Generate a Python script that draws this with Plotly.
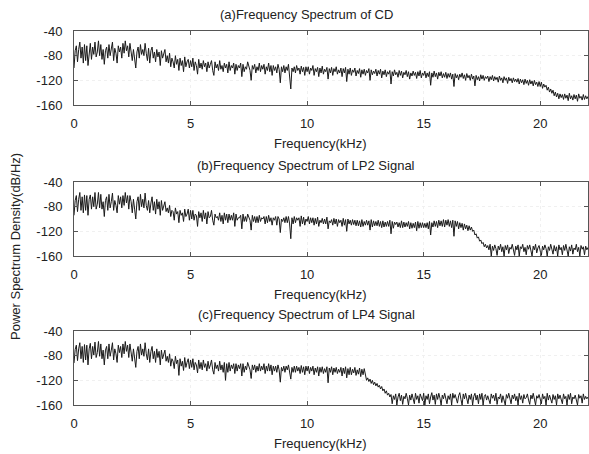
import numpy as np
import plotly.graph_objects as go

freq_step = 0.05
cd_psd = [
    -100, -72, -64, -90, -70, -58, -84, -66, -92, -62,
    -88, -64, -96, -70, -60, -86, -66, -78, -58, -82,
    -74, -56, -80, -62, -86, -70, -94, -72, -66, -84,
    -62, -80, -70, -58, -88, -68, -76, -92, -64, -74,
    -66, -84, -60, -76, -56, -72, -64, -82, -60, -74,
    -88, -70, -82, -100, -74, -66, -84, -62, -78, -70,
    -80, -60, -76, -88, -68, -92, -72, -66, -84, -74,
    -90, -70, -82, -74, -96, -72, -84, -78, -70, -90,
    -80, -92, -76, -98, -84, -90, -100, -80, -94, -86,
    -104, -84, -96, -88, -106, -82, -98, -90, -86, -100,
    -88, -98, -84, -104, -90, -96, -110, -86, -100, -92,
    -102, -88, -98, -92, -106, -90, -100, -94, -88, -104,
    -112, -90, -100, -94, -104, -88, -102, -96, -106, -92,
    -100, -94, -108, -90, -104, -96, -100, -92, -110, -94,
    -104, -96, -100, -92, -114, -94, -106, -98, -102, -90,
    -96, -104, -120, -96, -102, -94, -108, -98, -104, -92,
    -106, -96, -102, -94, -110, -98, -104, -92, -106, -96,
    -112, -96, -104, -98, -108, -94, -102, -124, -98, -106,
    -96, -108, -98, -104, -94, -110, -134, -100, -106, -98,
    -108, -96, -104, -100, -110, -97, -106, -99, -112, -98,
    -106, -98, -110, -100, -104, -96, -112, -101, -106, -99,
    -114, -100, -108, -97, -110, -102, -106, -99, -118, -101,
    -108, -99, -112, -101, -106, -98, -110, -103, -108, -100,
    -114, -101, -108, -99, -122, -102, -110, -100, -112, -103,
    -107, -100, -113, -104, -109, -101, -115, -103, -110, -102,
    -112, -104, -108, -101, -120, -103, -111, -105, -109, -102,
    -113, -104, -110, -102, -116, -105, -111, -103, -114, -106,
    -110, -104, -126, -106, -113, -103, -111, -107, -115, -104,
    -112, -105, -116, -107, -111, -104, -114, -106, -118, -108,
    -113, -105, -112, -107, -117, -106, -113, -104, -116, -108,
    -112, -105, -116, -108, -114, -106, -128, -108, -115, -105,
    -114, -108, -118, -107, -113, -106, -116, -109, -115, -107,
    -117, -109, -115, -108, -118, -110, -130, -109, -116, -111,
    -119, -110, -115, -108, -117, -111, -120, -109, -116, -112,
    -120, -110, -118, -113, -129, -112, -119, -114, -121, -111,
    -118, -112, -120, -114, -117, -113, -122, -114, -119, -112,
    -121, -114, -119, -115, -123, -113, -120, -116, -124, -114,
    -120, -116, -125, -115, -121, -117, -124, -116, -122, -118,
    -123, -117, -126, -118, -124, -119, -127, -118, -125, -120,
    -128, -119, -126, -121, -129, -120, -127, -123, -130, -122,
    -130, -123, -133, -126, -131, -128, -136, -131, -139, -134,
    -141, -136, -145, -139, -147, -141, -150, -142, -148, -143,
    -151, -142, -149, -144, -153, -141, -150, -145, -152, -143,
    -150, -144, -154, -142, -149, -146, -152, -143, -151, -145,
    -150, -146,
]
lp2_psd = [
    -94, -70, -62, -88, -68, -57, -86, -64, -90, -61,
    -86, -62, -94, -68, -61, -84, -64, -80, -57, -84,
    -76, -57, -82, -60, -84, -72, -96, -70, -64, -86,
    -60, -82, -72, -58, -86, -70, -78, -90, -62, -76,
    -64, -82, -62, -78, -57, -74, -62, -84, -62, -72,
    -90, -68, -84, -100, -72, -64, -86, -60, -80, -68,
    -82, -58, -78, -86, -70, -90, -74, -64, -86, -72,
    -92, -68, -84, -72, -94, -70, -86, -76, -72, -88,
    -82, -90, -78, -96, -86, -88, -102, -82, -92, -88,
    -106, -86, -94, -90, -104, -84, -96, -92, -84, -102,
    -86, -100, -86, -102, -92, -94, -112, -88, -98, -90,
    -104, -86, -100, -90, -108, -88, -98, -96, -86, -102,
    -110, -92, -98, -96, -102, -90, -104, -94, -108, -90,
    -102, -92, -106, -92, -102, -94, -102, -90, -112, -92,
    -102, -98, -98, -94, -116, -92, -104, -96, -104, -92,
    -98, -102, -118, -94, -104, -96, -106, -96, -106, -94,
    -104, -98, -100, -96, -108, -96, -106, -94, -104, -98,
    -110, -98, -102, -96, -110, -96, -100, -122, -100, -104,
    -98, -106, -96, -106, -96, -108, -132, -98, -108, -96,
    -106, -98, -102, -98, -112, -95, -108, -97, -110, -100,
    -104, -96, -108, -98, -106, -98, -110, -99, -108, -97,
    -112, -102, -106, -99, -108, -100, -108, -97, -116, -103,
    -106, -101, -110, -99, -108, -100, -112, -101, -106, -102,
    -112, -99, -110, -101, -120, -100, -108, -102, -110, -101,
    -109, -102, -111, -102, -111, -103, -113, -101, -112, -104,
    -110, -102, -110, -103, -118, -101, -113, -103, -111, -104,
    -111, -102, -112, -104, -114, -103, -113, -105, -112, -104,
    -112, -102, -124, -104, -115, -105, -109, -105, -113, -106,
    -114, -103, -114, -105, -113, -106, -112, -104, -116, -106,
    -115, -107, -114, -105, -119, -104, -115, -106, -114, -106,
    -114, -107, -114, -106, -116, -104, -126, -106, -113, -103,
    -112, -104, -114, -102, -111, -103, -112, -101, -113, -102,
    -110, -101, -112, -103, -114, -102, -128, -103, -112, -104,
    -116, -106, -114, -107, -118, -108, -116, -110, -119, -111,
    -118, -113, -120, -118, -126, -124, -131, -129, -136, -134,
    -140, -138, -145, -141, -147, -143, -150, -141, -160, -144,
    -151, -142, -148, -159, -144, -150, -141, -153, -145, -160,
    -143, -150, -142, -156, -146, -149, -141, -152, -159, -144,
    -150, -142, -160, -145, -148, -141, -153, -146, -158, -143,
    -149, -142, -151, -160, -144, -150, -141, -155, -147, -143,
    -152, -159, -144, -150, -142, -148, -160, -145, -151, -141,
    -149, -157, -143, -152, -145, -160, -142, -150, -146, -158,
    -143, -151, -141, -149, -160, -145, -152, -142, -157, -147,
    -150, -141, -153, -146, -160, -143, -149, -145, -158, -144,
    -150, -146,
]
lp4_psd = [
    -92, -70, -63, -88, -69, -59, -85, -65, -91, -62,
    -87, -63, -95, -69, -60, -85, -65, -79, -58, -83,
    -75, -57, -81, -61, -85, -71, -95, -71, -65, -85,
    -61, -81, -71, -59, -87, -69, -77, -91, -63, -75,
    -65, -83, -61, -77, -57, -73, -63, -83, -61, -73,
    -89, -69, -83, -99, -73, -65, -85, -61, -79, -69,
    -81, -59, -77, -87, -69, -91, -73, -65, -85, -73,
    -91, -69, -83, -73, -95, -71, -85, -77, -71, -89,
    -81, -91, -77, -97, -85, -89, -101, -81, -93, -87,
    -112, -85, -97, -89, -104, -83, -99, -91, -85, -101,
    -87, -99, -85, -103, -91, -95, -108, -87, -101, -91,
    -103, -87, -99, -93, -105, -89, -101, -95, -87, -103,
    -110, -91, -101, -95, -105, -89, -103, -95, -107, -91,
    -120, -93, -107, -91, -105, -95, -101, -93, -109, -93,
    -105, -95, -101, -93, -113, -93, -107, -97, -103, -91,
    -97, -103, -117, -95, -103, -95, -107, -97, -105, -93,
    -105, -97, -103, -93, -109, -97, -105, -93, -105, -95,
    -111, -97, -105, -97, -107, -95, -103, -123, -99, -105,
    -97, -107, -97, -103, -95, -109, -118, -99, -107, -97,
    -107, -97, -105, -99, -109, -96, -107, -98, -111, -97,
    -105, -97, -109, -99, -105, -97, -111, -100, -107, -98,
    -113, -99, -107, -98, -109, -101, -107, -98, -124, -100,
    -107, -98, -111, -100, -107, -99, -109, -102, -107, -99,
    -113, -100, -109, -98, -116, -101, -111, -99, -111, -102,
    -108, -99, -112, -103, -110, -100, -114, -102, -111, -101,
    -112, -120, -116, -122, -118, -125, -120, -127, -123, -129,
    -125, -131, -128, -134, -130, -137, -134, -141, -137, -144,
    -141, -147, -143, -158, -145, -151, -142, -160, -147, -141,
    -153, -144, -159, -146, -150, -141, -149, -160, -144, -152,
    -142, -150, -158, -141, -151, -145, -157, -142, -150, -153,
    -141, -160, -145, -151, -142, -158, -147, -140, -152, -144,
    -159, -142, -151, -141, -149, -160, -144, -150, -141, -153,
    -158, -145, -151, -142, -160, -141, -149, -143, -152, -157,
    -145, -140, -151, -160, -142, -150, -141, -153, -158, -144,
    -151, -142, -160, -146, -141, -152, -144, -158, -142, -151,
    -141, -160, -146, -143, -152, -145, -150, -158, -142, -149,
    -144, -153, -141, -159, -147, -150, -142, -156, -145, -151,
    -160, -143, -149, -141, -152, -158, -144, -150, -142, -153,
    -146, -160, -141, -151, -145, -157, -143, -150, -148, -142,
    -152, -159, -144, -150, -141, -153, -160, -145, -149, -143,
    -151, -158, -142, -150, -146, -160, -141, -152, -144, -149,
    -157, -143, -151, -145, -160, -142, -150, -144, -153, -158,
    -142, -150, -146, -160, -143, -151, -141, -158, -147, -150,
    -144, -152, -160, -143, -149, -145, -157, -142, -151, -146,
    -150, -147,
]
titles = ["(a)Frequency Spectrum of CD",
          "(b)Frequency Spectrum of LP2 Signal",
          "(c)Frequency Spectrum of LP4 Signal"]
x_title = "Frequency(kHz)"
y_title = "Power Spectrum Density(dB/Hz)"
x_ticks = [0, 5, 10, 15, 20]
y_ticks = [-40, -80, -120, -160]
y_ticktext = ["-40", "-80", "-120", "-160"]

W, H = 589, 454
freq = np.arange(len(cd_psd)) * freq_step

boxes = [(31, 105), (182, 256), (331, 405)]  # page pixels (top, bottom)
x0px, x1px = 74, 588
FONT = "Liberation Sans, Arial, sans-serif"


def px_x(p):
    return p / W


def px_y(p):
    return 1 - p / H


fig = go.Figure()
series = [cd_psd, lp2_psd, lp4_psd]
for k, vals in enumerate(series):
    sfx = "" if k == 0 else str(k + 1)
    fig.add_trace(go.Scatter(x=freq, y=vals, mode="lines",
                             line=dict(color="#1a1a1a", width=1),
                             xaxis="x" + sfx, yaxis="y" + sfx,
                             showlegend=False, hoverinfo="skip"))
    top, bot = boxes[k]
    common = dict(showline=True, mirror="ticks", linecolor="#555",
                  linewidth=1, ticks="inside", ticklen=4, tickcolor="#555",
                  tickfont=dict(family=FONT, size=13, color="#222"),
                  zeroline=False, automargin=False,
                  showgrid=True, gridcolor="#f0f0f0", griddash="dot")
    fig.update_layout(**{
        "xaxis" + sfx: dict(domain=[px_x(x0px), px_x(x1px)], range=[0, 22.05],
                            tickvals=x_ticks, anchor="y" + sfx,
                            ticklabelstandoff=6, **common),
        "yaxis" + sfx: dict(domain=[px_y(bot), px_y(top)], range=[-160, -40],
                            tickvals=y_ticks, ticktext=y_ticktext,
                            anchor="x" + sfx, ticklabelstandoff=8, **common),
    })
    fig.add_annotation(text=titles[k], x=px_x(306), y=px_y(top - 17),
                       xref="paper", yref="paper", showarrow=False,
                       xanchor="center", yanchor="middle",
                       font=dict(family=FONT, size=13, color="#222"))
    fig.add_annotation(text=x_title, x=px_x(320), y=px_y(bot + 38),
                       xref="paper", yref="paper", showarrow=False,
                       xanchor="center", yanchor="middle",
                       font=dict(family=FONT, size=13, color="#222"))

fig.add_annotation(text=y_title, x=px_x(15), y=px_y(247), xref="paper",
                   yref="paper", showarrow=False, textangle=-90,
                   xanchor="center", yanchor="middle",
                   font=dict(family=FONT, size=13, color="#222"))

fig.update_layout(width=W, height=H, margin=dict(l=0, r=0, t=0, b=0),
                  paper_bgcolor="white", plot_bgcolor="white")
fig.write_html("out.html", config={"displayModeBar": False},
               post_script="document.body.style.margin='0px';")
